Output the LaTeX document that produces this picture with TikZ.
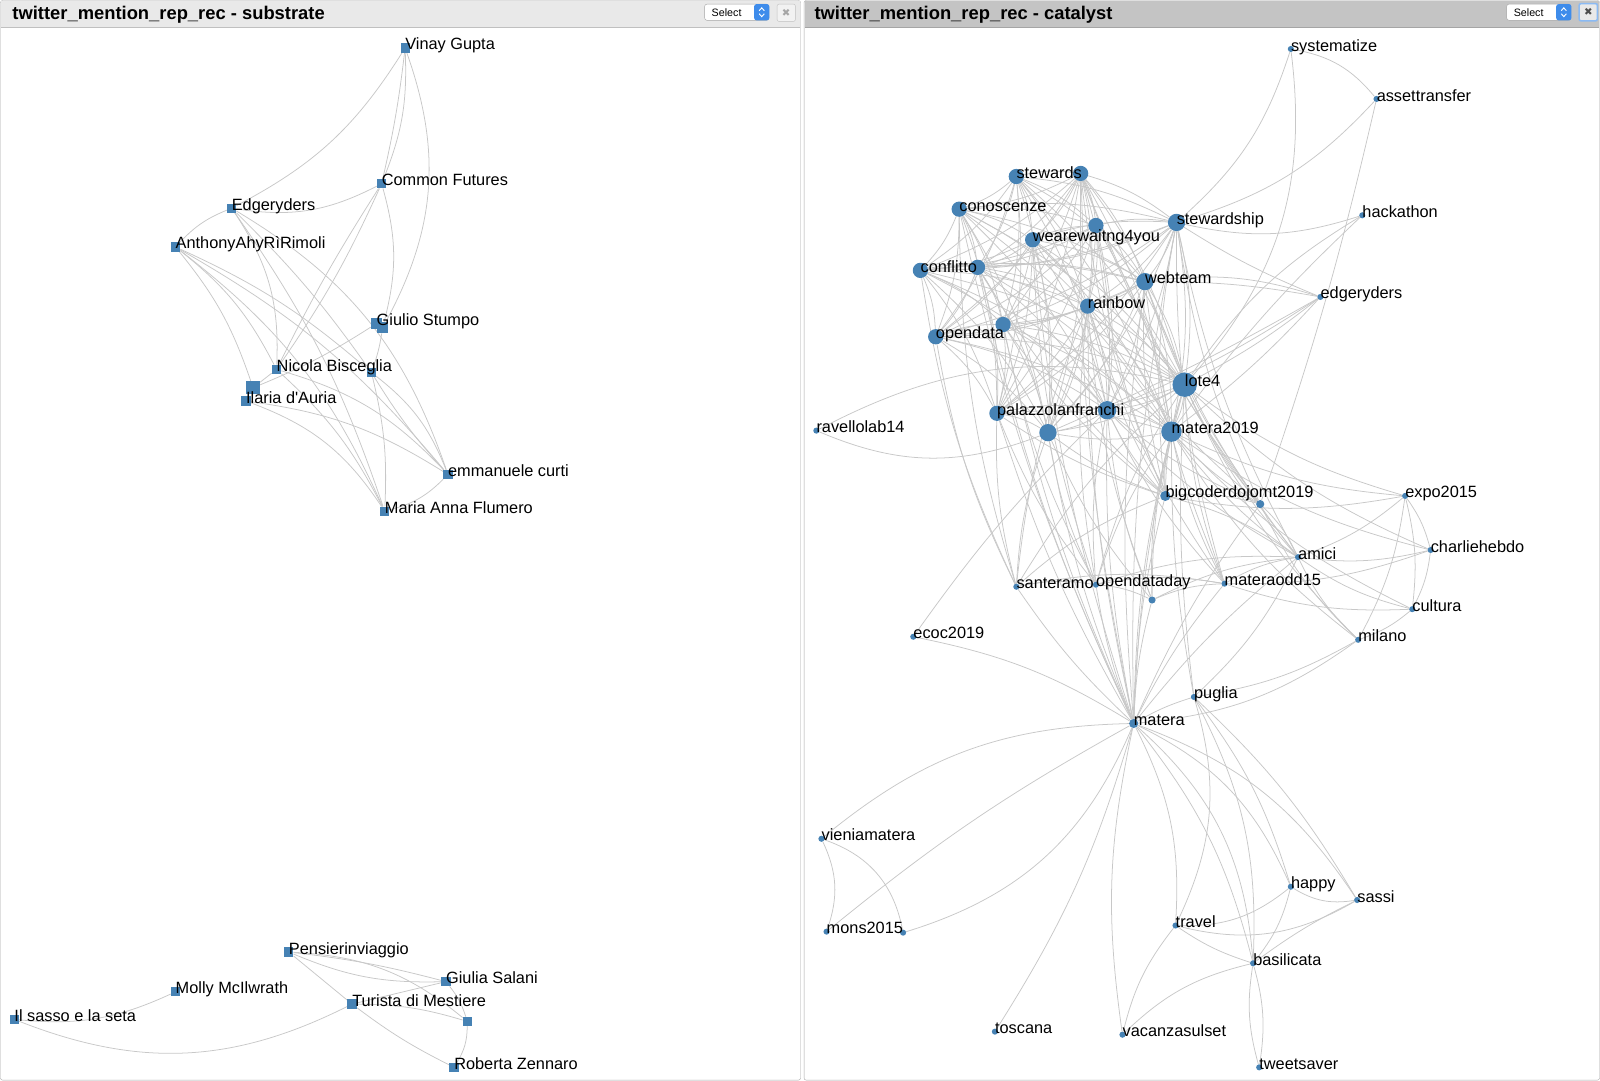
\documentclass[tikz,border=0pt]{standalone}
\usepackage{fontspec}
\setmainfont{Liberation Sans}
\newfontfamily\glyphfont{DejaVu Sans}
\usetikzlibrary{backgrounds}
\definecolor{nodeblue}{RGB}{70,130,180}
\definecolor{linkgray}{RGB}{200,200,200}
\definecolor{hdrlight}{RGB}{233,233,233}
\definecolor{hdrdark}{RGB}{196,196,196}
\definecolor{framegray}{RGB}{165,165,165}
\definecolor{selblue}{RGB}{62,140,235}

\begin{document}
\begin{tikzpicture}[x=1pt,y=1pt,
 link/.style={draw=linkgray,line width=0.75pt},
 sq/.style={rectangle,fill=nodeblue,minimum size=9pt,inner sep=0pt},
 dot/.style={circle,fill=nodeblue,minimum size=6pt,inner sep=0pt},
 lbl/.style={font=\fontsize{16}{16}\selectfont,inner sep=0pt,anchor=base west,yshift=-2pt},
 ttl/.style={font=\bfseries\fontsize{18}{18}\selectfont,inner sep=0pt,anchor=base west},
 selbox/.style={draw=framegray,fill=white,rounded corners=2.5pt,minimum width=63pt,minimum height=16pt,inner sep=0pt},
 selarrow/.style={fill=selblue,rounded corners=2.5pt,minimum width=15pt,minimum height=16pt,inner sep=0pt},
 seltext/.style={font=\fontsize{10.5}{11}\selectfont,inner sep=0pt,anchor=west},
 closebox/.style={draw=framegray!70,fill=hdrlight!60,rounded corners=2pt,minimum width=18pt,minimum height=17pt,inner sep=0pt,font=\glyphfont\fontsize{10}{10}\selectfont,text=black!35}]
\useasboundingbox (0,0) rectangle (1568,-1059);

% panels
\draw[framegray,rounded corners=2pt] (0.5,-0.5) rectangle (784.5,-1058.5);
\draw[framegray,rounded corners=2pt] (788,-0.5) rectangle (1567.5,-1058.5);
\fill[hdrlight] (1,-1) rectangle (784,-26.5);
\fill[hdrdark] (788.5,-1) rectangle (1567,-26.5);
\draw[framegray!70] (1,-26.5) -- (784,-26.5);
\draw[framegray] (788.5,-26.5) -- (1567,-26.5);
\node[ttl] (ttlL) at (12,-19) {twitter\_mention\_rep\_rec - substrate};
\node[ttl] (ttlR) at (798,-19) {twitter\_mention\_rep\_rec - catalyst};

\node[selbox] (selL) at (722,-12) {};
\node[selarrow] (selLa) at (746.5,-12) {};
\node[seltext] (selLt) at ([xshift=7pt]selL.west) {Select};
\node[closebox] (clsL) at (770.5,-12.5) {✖};
\node[selbox] (selR) at (1508,-12) {};
\node[selarrow] (selRa) at (1532.5,-12) {};
\node[seltext] (selRt) at ([xshift=7pt]selR.west) {Select};
\node[closebox,draw=selblue!60,line width=1.5pt,fill=hdrlight,text=black!70] (clsR) at (1556.5,-12) {✖};
\foreach \s in {selLa,selRa} {
 \draw[white,line width=0.9pt] ([shift={(-2.5,1.5)}]\s.center) -- ++(2.5,2.8) -- ++(2.5,-2.8);
 \draw[white,line width=0.9pt] ([shift={(-2.5,-1.5)}]\s.center) -- ++(2.5,-2.8) -- ++(2.5,2.8);
}

% substrate
\node[sq] (vg) at (397,-47) {}; \node[lbl] (vgl) at (vg) {Vinay Gupta};
\node[sq] (cf) at (374,-180) {}; \node[lbl] (cfl) at (cf) {Common Futures};
\node[sq] (ed) at (227,-204) {}; \node[lbl] (edl) at (ed) {Edgeryders};
\node[sq] (an) at (172,-242) {}; \node[lbl] (anl) at (an) {AnthonyAhyRìRimoli};
\node[sq,minimum size=11pt] (gs2) at (375,-321) {};
\node[sq,minimum size=11pt] (gs) at (369,-317) {}; \node[lbl] (gsl) at (gs) {Giulio Stumpo};
\node[sq] (nb2) at (364,-365) {};
\node[sq] (nb) at (271,-362) {}; \node[lbl] (nbl) at (nb) {Nicola Bisceglia};
\node[sq,minimum size=13pt] (ia2) at (248,-380) {};
\node[sq] (ia) at (241,-393) {}; \node[lbl] (ial) at (ia) {Ilaria d\textquotesingle Auria};
\node[sq] (ec) at (439,-465) {}; \node[lbl] (ecl) at (ec) {emmanuele curti};
\node[sq] (ma) at (377,-501) {}; \node[lbl] (mal) at (ma) {Maria Anna Flumero};

\node[sq] (pe) at (283,-933) {}; \node[lbl] (pel) at (pe) {Pensierinviaggio};
\node[sq] (mo) at (172,-972) {}; \node[lbl] (mol) at (mo) {Molly McIlwrath};
\node[sq] (is) at (14,-999) {}; \node[lbl] (isl) at (is) {Il sasso e la seta};
\node[sq] (tu) at (345,-984) {}; \node[lbl] (tul) at (tu) {Turista di Mestiere};
\node[sq] (gi) at (437,-962) {}; \node[lbl] (gil) at (gi) {Giulia Salani};
\node[sq] (un) at (458,-1001) {};
\node[sq] (rz) at (445,-1046) {}; \node[lbl] (rzl) at (rz) {Roberta Zennaro};

% catalyst
\node[dot] (sy) at (1265,-48) {}; \node[lbl] (syl) at (sy) {systematize};
\node[dot] (at) at (1349,-97) {}; \node[lbl] (atl) at (at) {assettransfer};
\node[dot,minimum size=15pt] (st2) at (1059,-170) {};
\node[dot,minimum size=15pt] (st) at (996,-173) {}; \node[lbl] (stl) at (st) {stewards};
\node[dot,minimum size=15pt] (co) at (940,-205) {}; \node[lbl] (col) at (co) {conoscenze};
\node[dot,minimum size=17pt] (sh) at (1153,-218) {}; \node[lbl] (shl) at (sh) {stewardship};
\node[dot] (hk) at (1335,-211) {}; \node[lbl] (hkl) at (hk) {hackathon};
\node[dot,minimum size=15pt] (ww2) at (1074,-221) {};
\node[dot,minimum size=15pt] (ww) at (1012,-235) {}; \node[lbl] (wwl) at (ww) {wearewaitng4you};
\node[dot,minimum size=15pt] (cn2) at (958,-262) {};
\node[dot,minimum size=15pt] (cn) at (902,-265) {}; \node[lbl] (cnl) at (cn) {conflitto};
\node[dot,minimum size=17pt] (wt) at (1122,-276) {}; \node[lbl] (wtl) at (wt) {webteam};
\node[dot] (er) at (1294,-291) {}; \node[lbl] (erl) at (er) {edgeryders};
\node[dot,minimum size=15pt] (rb) at (1066,-300) {}; \node[lbl] (rbl) at (rb) {rainbow};
\node[dot,minimum size=15pt] (od2) at (983,-318) {};
\node[dot,minimum size=15pt] (od) at (917,-330) {}; \node[lbl] (odl) at (od) {opendata};
\node[dot,minimum size=24pt] (lo) at (1161,-377) {}; \node[lbl] (lol) at (lo) {lote4};
\node[dot,minimum size=18pt] (pz2) at (1085,-402) {};
\node[dot,minimum size=15pt] (pz) at (977,-405) {}; \node[lbl] (pzl) at (pz) {palazzolanfranchi};
\node[dot,minimum size=17pt] (mt2) at (1027,-424) {};
\node[dot,minimum size=20pt] (mt) at (1148,-423) {}; \node[lbl] (mtl) at (mt) {matera2019};
\node[dot] (rv) at (800,-422) {}; \node[lbl] (rvl) at (rv) {ravellolab14};
\node[dot,minimum size=8pt] (bc2) at (1235,-494) {};
\node[dot,minimum size=10pt] (bc) at (1142,-486) {}; \node[lbl] (bcl) at (bc) {bigcoderdojomt2019};
\node[dot] (ex) at (1377,-486) {}; \node[lbl] (exl) at (ex) {expo2015};
\node[dot] (ch) at (1402,-539) {}; \node[lbl] (chl) at (ch) {charliehebdo};
\node[dot] (am) at (1272,-546) {}; \node[lbl] (aml) at (am) {amici};
\node[dot] (oy) at (1074,-573) {}; \node[lbl] (oyl) at (oy) {opendataday};
\node[dot] (sa) at (996,-575) {}; \node[lbl] (sal) at (sa) {santeramo};
\node[dot,minimum size=7pt] (oy2) at (1129,-588) {};
\node[dot] (modd) at (1200,-572) {}; \node[lbl] (moddl) at (modd) {materaodd15};
\node[dot] (cu) at (1384,-597) {}; \node[lbl] (cul) at (cu) {cultura};
\node[dot] (ec2) at (895,-624) {}; \node[lbl] (ec2l) at (ec2) {ecoc2019};
\node[dot] (mi) at (1331,-627) {}; \node[lbl] (mil) at (mi) {milano};
\node[dot] (pu) at (1170,-683) {}; \node[lbl] (pul) at (pu) {puglia};
\node[dot,minimum size=9pt] (mat) at (1111,-709) {}; \node[lbl] (matl) at (mat) {matera};
\node[dot] (vm) at (805,-822) {}; \node[lbl] (vml) at (vm) {vieniamatera};
\node[dot] (ha) at (1265,-869) {}; \node[lbl] (hal) at (ha) {happy};
\node[dot] (ss) at (1330,-882) {}; \node[lbl] (ssl) at (ss) {sassi};
\node[dot] (mons2) at (885,-914) {};
\node[dot] (mons) at (810,-913) {}; \node[lbl] (monsl) at (mons) {mons2015};
\node[dot] (tr) at (1152,-907) {}; \node[lbl] (trl) at (tr) {travel};
\node[dot] (ba) at (1228,-944) {}; \node[lbl] (bal) at (ba) {basilicata};
\node[dot] (tos) at (975,-1011) {}; \node[lbl] (tosl) at (tos) {toscana};
\node[dot] (vs) at (1100,-1014) {}; \node[lbl] (vsl) at (vs) {vacanzasulset};
\node[dot] (tw) at (1234,-1046) {}; \node[lbl] (twl) at (tw) {tweetsaver};

\begin{pgfonlayer}{background}
\foreach \a/\b/\c in {vg/ed/15,vg/cf/12,vg/cf/3,vg/gs2/24,cf/ed/18,cf/nb/5,cf/nb/-3,cf/gs2/15,
 ed/an/-12,ed/nb/18,ed/nb2/5,ed/ec/20,ed/ma/8,an/nb2/8,an/ec/10,an/ma/14,an/ia2/10,an/nb/12,
 gs/ia2/5,gs2/nb2/5,nb/ec/15,nb/ma/10,nb2/ec/15,nb2/ec/-5,nb2/ma/8,ia/ma/18,ia/ec/12,ia2/nb/0,ec/ma/15,
 pe/gi/-12,pe/gi/4,pe/un/18,pe/tu/0,tu/rz/-5,tu/gi/0,tu/un/8,gi/un/10,un/rz/15,is/mo/-15,is/tu/-24}
 \draw[link] (\a) to[bend left=\c] (\b);

\foreach \a [count=\i] in {st,st2,co,ww,ww2,sh,cn,cn2,wt,rb,od,od2,lo,pz,pz2,mt,mt2}
 \foreach \b [count=\j] in {st,st2,co,ww,ww2,sh,cn,cn2,wt,rb,od,od2,lo,pz,pz2,mt,mt2}
  {\ifnum\j>\i \draw[link] (\a) to[bend left=10] (\b); \fi}

\foreach \a/\b in {bc/lo,bc/mt,bc/mt2,bc/pz,bc/pz2,bc/rb,bc/wt,bc/sh,bc/ww2,bc/st2,bc/od2,bc/cn2,
 bc2/lo,bc2/mt,bc2/pz2,bc2/rb,bc2/wt,bc2/sh,bc2/st2,sa/pz,sa/mt2,sa/od,sa/cn,sa/co,sa/rb,sa/lo,
 oy/pz,oy/pz2,oy/mt2,oy/rb,oy/ww,oy/lo,oy/mt,oy/od2,oy2/pz2,oy2/mt,oy2/lo,oy2/rb,oy2/mt2,
 modd/lo,modd/mt,modd/pz2,modd/wt,modd/rb,modd/sh,am/lo,am/mt,am/pz2,am/wt,am/sh,am/st2}
 \draw[link] (\a) to[bend left=8] (\b);

\foreach \a/\b in {sa/oy,oy/modd,oy/oy2,oy2/modd,modd/am,bc/am,bc2/am,bc/bc2,sa/bc,oy/am,oy2/am,sa/modd,
 ex/ch,ex/cu,ex/mi,ex/am,ex/lo,ex/mt,ex/bc,ch/am,ch/cu,ch/mt,ch/lo,ch/modd,cu/am,cu/mi,cu/modd,cu/mt,
 mi/am,mi/lo,mi/mt,mi/bc2,am/pu}
 \draw[link] (\a) to[bend left=10] (\b);

\foreach \b in {lo,mt,mt2,pz,pz2,rb,wt,ww,st2,sh,od2,cn2,co,bc,bc2,sa,oy,oy2,modd,am,pu}
 \draw[link] (mat) to[bend left=6] (\b);

\foreach \a/\b/\c in {sy/at/20,sy/sh/15,sy/lo/24,at/sh/15,at/bc2/3,hk/sh/15,hk/lo/-12,hk/mt/-5,
 wt/er/12,wt/er/5,sh/er/-5,er/lo/5,er/mt/5,er/pz2/5,er/mt2/3,rv/lo/20,rv/mt2/-22,ec2/pz2/5,ec2/mat/10,
 vm/mat/19,mons/mat/5,mons2/mat/-25,vm/mons/22,vm/mons2/30,tos/mat/-8,vs/mat/10,vs/tr/12,vs/ba/15,
 tr/mat/-15,pu/tr/21,tr/ha/-20,tr/ss/-22,tr/ba/-8,mat/ba/12,mat/ba/22,mat/ha/20,mat/ss/18,pu/ba/15,
 pu/ss/8,pu/ha/10,ha/ss/-20,ba/ss/5,ha/ba/12,ba/tw/12,ba/tw/-12,mat/mi/-15,pu/mi/-10,pu/lo/5,pu/mt/5}
 \draw[link] (\a) to[bend left=\c] (\b);
\end{pgfonlayer}
\end{tikzpicture}
\end{document}
